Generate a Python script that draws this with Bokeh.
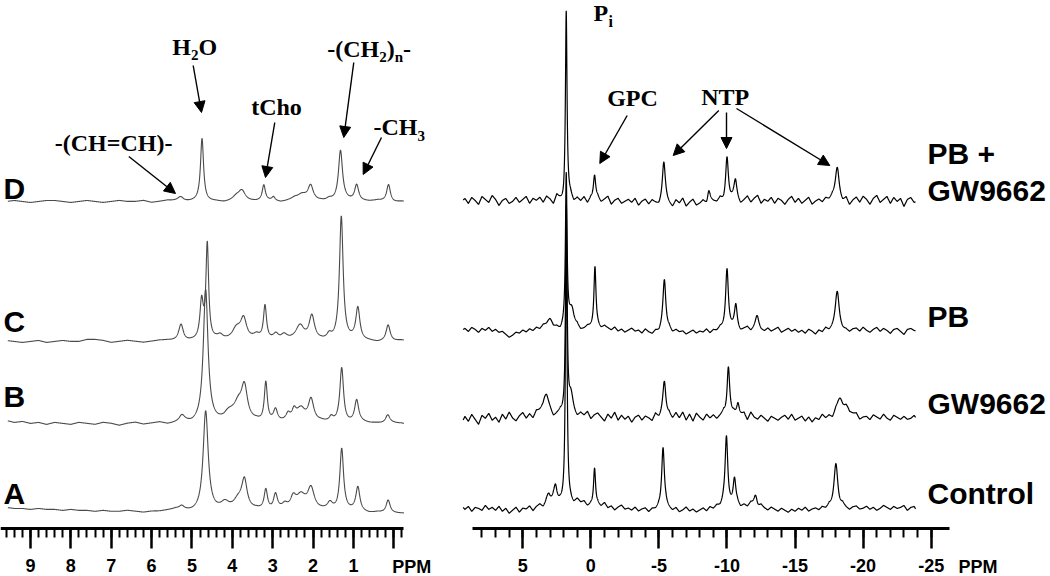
import numpy as np
from bokeh.plotting import figure
from bokeh.layouts import row
from bokeh.models import Range1d, FixedTicker, Label, Arrow, NormalHead
from bokeh.embed import file_html
from bokeh.resources import INLINE

# ---------------------------------------------------------------- data
# 1H spectra (left panel): peaks read from the picture as
# position (ppm), height (px above baseline), half width (ppm)
h_traces = ["D", "C", "B", "A"]

hD_ppm = [5.28, 4.75, 3.90, 3.76, 3.22, 2.98, 2.45, 2.28, 2.06, 1.60, 1.32, 0.92, 0.13]
hD_hgt = [5, 62, 4, 9, 15, 4, 3, 5, 15, 3, 50, 16, 17]
hD_wid = [0.10, 0.045, 0.12, 0.10, 0.045, 0.05, 0.12, 0.12, 0.08, 0.08, 0.06, 0.06, 0.055]

hC_ppm = [5.27, 4.76, 4.62, 4.30, 3.90, 3.72, 3.40, 3.19, 2.92, 2.72, 2.32, 2.03, 1.60, 1.30, 0.89, 0.14]
hC_hgt = [17, 38, 95, 4, 12, 20, 4, 34, 6, 6, 14, 24, 6, 124, 32, 16]
hC_wid = [0.07, 0.05, 0.04, 0.08, 0.14, 0.09, 0.10, 0.045, 0.08, 0.10, 0.12, 0.08, 0.07, 0.055, 0.06, 0.06]

hB_ppm = [5.25, 4.66, 4.10, 3.85, 3.70, 3.17, 2.93, 2.62, 2.47, 2.30, 2.05, 1.55, 1.29, 0.92, 0.15]
hB_hgt = [6, 132, 8, 16, 32, 40, 12, 6, 9, 14, 22, 5, 55, 22, 9]
hB_wid = [0.08, 0.07, 0.15, 0.14, 0.09, 0.045, 0.06, 0.06, 0.06, 0.14, 0.08, 0.06, 0.055, 0.06, 0.07]

hA_ppm = [5.25, 4.66, 4.18, 3.85, 3.70, 3.17, 2.93, 2.70, 2.49, 2.30, 2.05, 1.58, 1.29, 0.89, 0.14]
hA_hgt = [4, 100, 6, 10, 28, 20, 16, 5, 11, 14, 22, 7, 62, 24, 13]
hA_wid = [0.08, 0.075, 0.12, 0.15, 0.08, 0.05, 0.06, 0.08, 0.08, 0.14, 0.10, 0.08, 0.055, 0.06, 0.06]

# baseline ripple of the 1H traces, every 0.2 ppm from 9.6 ppm downfield to upfield (px)
h_noise_start, h_noise_step = 9.6, -0.2
hD_noise = [0, 1, 0, -1, 0, 1, 1, 0, -1, 0,
            1, 0, -1, 0, 1, 0, 0, 1, -1, 0,
            1, 0, -1, 0, 1, 0, 0, -1, 0, 1,
            0, 0, 1, 0, -1, 0, 0, 1, 0, 0,
            -1, 0, 1, 0, 0, 0, 1, 0, -1, 0, 0]
hC_noise = [1, 0, -1, 0, 1, -1, 0, 1, 0, 0,
            2, 2, 1, -1, 0, 1, 0, -1, 0, 1,
            1, 0, -1, 0, 0, 0, 1, 0, -1, 0,
            0, 1, 0, 0, -1, 0, 1, 0, 0, 0,
            -1, 0, 0, 1, 0, 0, -1, 0, 0, 1, 0]
hB_noise = [3, 1, 2, 0, 1, -1, 1, 0, -1, 1,
            0, -1, 1, 0, -2, 0, 1, -1, 0, 1,
            -1, 0, 1, -1, 0, 1, 0, -1, 1, 0,
            0, 1, -1, 0, 0, 1, 0, -1, 0, 1,
            0, 0, -1, 0, 1, 0, 0, -1, 0, 0, -2]
hA_noise = [4, 3, 3, 2, 3, 2, 2, 1, 2, 1,
            1, 0, 1, 0, 0, 1, 0, -1, 0, 0,
            1, 2, 0, -1, -1, 0, 0, 1, 0, 0,
            0, 1, 0, -1, 0, 0, 0, 0, -1, 0,
            0, -1, 0, 0, -1, -2, -1, -2, -2, -2, -2]

# 31P spectra (right panel)
p_traces = ["PB + GW9662", "PB", "GW9662", "Control"]

pD_ppm = [1.81, -0.27, -5.36, -8.66, -10.00, -10.62, -18.10]
pD_hgt = [190, 25, 40, 10, 44, 18, 33]
pD_wid = [0.07, 0.10, 0.13, 0.10, 0.12, 0.12, 0.17]

pC_ppm = [3.00, 1.81, 1.40, -0.30, -5.40, -10.00, -10.65, -12.20, -18.10]
pC_hgt = [9, 150, 22, 62, 52, 62, 24, 11, 37]
pC_wid = [0.35, 0.07, 0.25, 0.09, 0.13, 0.12, 0.12, 0.15, 0.17]

pB_ppm = [3.35, 1.80, 1.45, -5.40, -10.10, -10.80, -18.30, -18.90]
pB_hgt = [20, 210, 18, 38, 52, 14, 18, 9]
pB_wid = [0.35, 0.07, 0.20, 0.14, 0.12, 0.12, 0.30, 0.40]

pA_ppm = [3.10, 2.60, 1.81, 1.00, -0.27, -5.30, -9.96, -10.55, -12.10, -18.00]
pA_hgt = [12, 18, 280, 5, 40, 63, 73, 26, 12, 44]
pA_wid = [0.20, 0.15, 0.07, 0.50, 0.09, 0.12, 0.12, 0.12, 0.15, 0.17]

# noise of the 31P traces, every 0.25 ppm from 9.5 ppm (px)
p_noise_start, p_noise_step = 9.5, -0.25
pD_noise = [0, 3, -2, 4, 1, -3, 5, 2, -1, 6,
            2, -4, 1, 3, -2, 0, 4, -1, 2, 5,
            -2, 3, 1, 4, -1, 5, 2, -3, 6, 1,
            -4, 2, 5, -1, 3, 0, 4, -2, 3, 1,
            4, -1, 2, 5, -3, 1, 3, -2, 0, 2,
            -1, 3, -4, 0, 2, -3, 1, -2, -5, -1,
            0, -3, -6, 1, -2, 3, -5, -1, 2, -4,
            -2, 1, -3, 2, 0, -1, 3, -2, 0, 1,
            4, 2, -3, 1, 5, -1, 3, 6, -2, 2,
            0, 4, -2, 3, 1, -3, 2, 5, -1, 3,
            -2, 1, 4, -3, 0, 2, -1, 3, 1, 4,
            2, 0, -2, 3, -4, 1, 4, -1, 5, 2,
            -3, 3, 6, -1, 2, 5, -2, 4, 0, 3,
            -5, 2, 4, -1, 1]
pC_noise = [0, 2, -1, 3, 1, -2, 2, 0, 3, -1,
            1, -2, -1, -4, -7, -5, -2, -3, 0, -2,
            1, -1, 2, 0, 3, 1, 2, -2, 0, -3,
            0, 2, -1, -3, 1, -2, 0, 3, 2, 1,
            3, 1, 4, 2, 0, 3, -1, 1, -2, 0,
            2, -1, 0, -3, 1, -2, -4, -1, -3, 0,
            -2, 1, -3, 0, -2, -1, -4, -2, 0, -3,
            -1, -2, 1, -3, 0, -1, 2, 0, -1, 1,
            2, 0, -2, 1, 3, -1, 2, 4, 0, -1,
            2, -1, 1, 3, -2, 0, 2, -1, 1, -2,
            0, -3, 1, -1, -4, 0, -2, 2, -1, 1,
            3, 1, -1, 0, -2, 1, 2, -1, 3, 0,
            -2, 1, 3, -1, 2, 0, -3, 1, 2, -1,
            -4, 1, 2, 0, -1]
pB_noise = [-5, 2, -3, 4, -1, -6, 3, 0, 5, -2,
            1, -4, 4, -1, 6, 0, -3, 2, 5, -1,
            3, -2, 4, 1, -1, 5, 2, -3, 1, 4,
            0, -2, 3, 1, -1, 4, 2, 6, -1, 3,
            5, 1, -3, 4, 0, 6, -2, 3, -1, 2,
            -4, 1, 3, -2, 2, 0, -3, 4, -1, 1,
            -2, 3, -1, 5, 0, 6, -2, 4, -3, 5,
            1, -2, 4, 0, 3, -1, 2, 5, -2, 1,
            4, 0, 2, 5, -2, 6, 1, -1, 3, 0,
            -3, 2, 0, -2, 1, 3, -1, 4, -2, 0,
            2, -3, 1, -4, 0, -2, 3, -1, 1, -3,
            2, 0, -2, 1, -4, -1, 2, -3, 0, 1,
            -2, 3, 1, -1, 4, 0, -2, 3, 1, -1,
            2, -1, 0, 3, -2]
pA_noise = [3, -1, 2, -3, 1, 0, -2, 3, -1, 1,
            -2, 2, -3, 0, -5, -2, 1, -4, 0, -1,
            2, -3, 1, 3, -1, 2, 0, 4, 1, 3,
            1, 0, 2, -1, 3, 1, 4, 0, 2, -1,
            3, 1, 5, 0, 2, -2, 1, 3, -1, 0,
            -2, 1, -3, -1, 0, -4, -1, -2, 0, -3,
            1, -1, -3, 0, -4, -2, 1, -3, -1, -4,
            -2, 0, -3, 1, -1, 2, 0, 3, -2, 1,
            2, 4, 0, 3, 1, 5, 2, -1, 3, 0,
            -2, 1, -1, -3, 0, -2, -4, -1, -3, 0,
            -2, 1, -3, -1, 0, -2, 1, -1, 2, 0,
            1, -1, 3, 0, -2, 1, 2, -1, 0, 2,
            -1, 1, -2, 0, 3, 1, -1, 2, 0, 1,
            3, -2, 1, 2, -4]

h_ticks = [9, 8, 7, 6, 5, 4, 3, 2, 1, 0]
p_ticks = [5, 0, -5, -10, -15, -20, -25]

# ---------------------------------------------------------------- layout (positions / styles)
Y_TOP, Y_BOTTOM = 528, -48          # px above / below the axis line
h_view = (9.742, -1.405)            # ppm shown across the left figure
h_axis = (9.742, -0.241)            # extent of the left axis line
p_view = (10.311, -33.764)
p_axis = (8.695, -26.345)
h_base = {"D": 327, "C": 187, "B": 105, "A": 17}
p_base = {"PB + GW9662": 327, "PB": 198, "GW9662": 110, "Control": 20}

SERIF = "Liberation Serif"
SANS = "Liberation Sans"


def render(x, ppm, hgt, wid, noise, n_start, n_step):
    nx = n_start + n_step * np.arange(len(noise))
    y = np.interp(x, nx[::-1], np.asarray(noise, float)[::-1])
    for c, h, w in zip(ppm, hgt, wid):
        y = y + h * w * w / ((x - c) ** 2 + w * w)
    return y


def make_fig(width, view, axis_span):
    p = figure(width=width, height=576, x_range=Range1d(*view), y_range=Range1d(Y_BOTTOM, Y_TOP),
               output_backend="svg", toolbar_location=None, y_axis_location=None, title=None,
               min_border_left=0, min_border_right=0, min_border_top=0, min_border_bottom=0)
    p.outline_line_color = None
    p.grid.visible = False
    p.background_fill_color = "white"
    p.border_fill_color = "white"
    ax = p.xaxis[0]
    ax.fixed_location = 0
    ax.bounds = (min(axis_span), max(axis_span))
    ax.axis_line_width = 3
    ax.axis_line_color = "black"
    ax.major_tick_in = 0
    ax.major_tick_out = 20
    ax.major_tick_line_width = 2.5
    ax.minor_tick_in = 0
    ax.minor_tick_out = 9
    ax.minor_tick_line_width = 2
    ax.major_label_text_font = SANS
    ax.major_label_text_font_style = "bold"
    ax.major_label_text_font_size = "18px"
    ax.major_label_text_color = "black"
    ax.major_label_standoff = 10
    return p


def lab(p, x, y, text, size, font=SERIF, xoff=0):
    # y is the vertical middle of the text line
    p.add_layout(Label(x=x, y=y, text=text, x_offset=xoff, text_font=font, text_font_style="bold",
                       text_font_size=size, text_color="black", text_align="left",
                       text_baseline="middle"))


def arrow(p, x0, y0, x1, y1):
    p.add_layout(Arrow(end=NormalHead(size=11, fill_color="black", line_color="black", line_width=1),
                       x_start=x0, y_start=y0, x_end=x1, y_end=y1,
                       line_color="black", line_width=1.4))


# ---------------------------------------------------------------- left: 1H
p1 = make_fig(450, h_view, h_axis)
p1.xaxis[0].ticker = FixedTicker(ticks=h_ticks,
                                 minor_ticks=[round(-0.2 + 0.2 * i, 1) for i in range(50)])
p1.xaxis[0].major_label_overrides = {t: (str(t) if t != 0 else "") for t in h_ticks}

xh = np.linspace(9.56, -0.25, 2500)
h_sets = {"D": (hD_ppm, hD_hgt, hD_wid, hD_noise), "C": (hC_ppm, hC_hgt, hC_wid, hC_noise),
          "B": (hB_ppm, hB_hgt, hB_wid, hB_noise), "A": (hA_ppm, hA_hgt, hA_wid, hA_noise)}
for name in h_traces:
    pp, hh, ww, nn = h_sets[name]
    y = h_base[name] + render(xh, pp, hh, ww, nn, h_noise_start, h_noise_step)
    p1.line(xh, y, line_color="#4a4a4a", line_width=1.1)

for name, ym in zip(h_traces, [340.4, 207.4, 132.4, 35.4]):
    lab(p1, 9.668, ym, name, "30px", SANS)

lab(p1, 5.489, 481.1, "H", "24px")
lab(p1, 5.489, 473.1, "2", "15px", xoff=18.7)
lab(p1, 5.489, 481.1, "O", "24px", xoff=26.2)
arrow(p1, 4.969, 463, 4.763, 416)

lab(p1, 3.532, 421.1, "tCho", "24px")
arrow(p1, 2.948, 406, 3.178, 351)

lab(p1, 1.650, 479.1, "-(CH", "24px")
lab(p1, 1.650, 471.1, "2", "15px", xoff=52)
lab(p1, 1.650, 479.1, ")", "24px", xoff=59.5)
lab(p1, 1.650, 471.1, "n", "15px", xoff=67.5)
lab(p1, 1.650, 479.1, "-", "24px", xoff=75.9)
arrow(p1, 0.991, 466, 1.239, 391)

lab(p1, 0.503, 401.1, "-CH", "24px")
lab(p1, 0.503, 392.1, "3", "15px", xoff=44)
arrow(p1, 0.305, 391, 0.758, 354)

lab(p1, 8.397, 385.1, "-(CH=CH)-", "24px")
arrow(p1, 6.564, 372, 5.407, 335)

lab(p1, 0.04, -38.2, "PPM", "18px", SANS)

# ---------------------------------------------------------------- right: 31P
p2 = make_fig(600, p_view, p_axis)
p2.xaxis[0].ticker = FixedTicker(ticks=p_ticks, minor_ticks=list(range(-25, 9)))
p2.xaxis[0].major_label_overrides = {t: str(t) for t in p_ticks}

xp = np.linspace(9.38, -23.85, 4000)
p_sets = {"PB + GW9662": (pD_ppm, pD_hgt, pD_wid, pD_noise), "PB": (pC_ppm, pC_hgt, pC_wid, pC_noise),
          "GW9662": (pB_ppm, pB_hgt, pB_wid, pB_noise), "Control": (pA_ppm, pA_hgt, pA_wid, pA_noise)}
for name in p_traces:
    pp, hh, ww, nn = p_sets[name]
    y = p_base[name] + render(xp, pp, hh, ww, nn, p_noise_start, p_noise_step)
    p2.line(xp, y, line_color="black", line_width=1.2)

lab(p2, -24.729, 375.4, "PB +", "30px", SANS)
lab(p2, -24.729, 338.4, "GW9662", "30px", SANS)
lab(p2, -24.729, 212.4, "PB", "30px", SANS)
lab(p2, -24.729, 125.4, "GW9662", "30px", SANS)
lab(p2, -24.729, 35.4, "Control", "30px", SANS)

lab(p2, -0.194, 515.1, "P", "24px")
lab(p2, -0.194, 506.9, "i", "16px", xoff=15)

lab(p2, -1.200, 430.1, "GPC", "24px")
arrow(p2, -2.669, 413, -0.656, 365)

lab(p2, -8.105, 431.1, "NTP", "24px")
arrow(p2, -9.398, 418, -6.048, 373)
arrow(p2, -9.964, 416, -9.964, 380)
arrow(p2, -10.698, 420, -17.552, 363)

lab(p2, -27.006, -38.2, "PPM", "18px", SANS)

layout = row(p1, p2)

open("out.html", "w").write(file_html(layout, INLINE))
